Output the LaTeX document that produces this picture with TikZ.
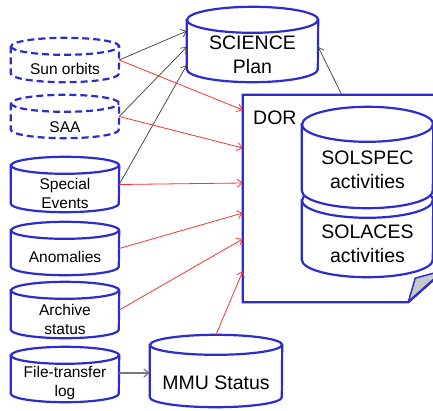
\documentclass[tikz,border=0pt]{standalone}
\usepackage{fontspec}
\setmainfont{Liberation Sans}
\usetikzlibrary{arrows.meta,calc}
\definecolor{cylblue}{RGB}{45,45,205}
\definecolor{arrred}{RGB}{255,50,50}
\definecolor{arrdark}{RGB}{60,60,60}
\definecolor{arrgray}{RGB}{120,120,120}
\definecolor{foldgray}{RGB}{200,200,200}
\newcommand\smallf{\fontsize{15.5}{19}\selectfont}
\newcommand\largef{\fontsize{19.5}{24}\selectfont}
\tikzset{
  cylline/.style={draw=cylblue, line width=2.2pt},
  cyltext/.style={inner sep=0pt, align=center, text=black},
  dashcyl/.style={dash pattern=on 7pt off 4pt},
  tipstyle/.style={-{Straight Barb[length=5pt,width=8pt]}},
  blackarr/.style={tipstyle, draw=arrdark, line width=0.7pt},
  redarr/.style={tipstyle, draw=arrred, line width=0.8pt},
  grayarr/.style={tipstyle, draw=arrgray, line width=1.2pt},
}
% name, style, center, width, height, ry, text, text dy
\newcommand\mycyl[8]{%
  \node[inner sep=0pt, minimum width=#4, minimum height=#5] (#1) at (#3) {};
  \path[cylline, fill=white, #2] ([yshift=-#6]#1.north west) -- ([yshift=#6]#1.south west)
     arc[start angle=180, end angle=360, x radius=#4/2, y radius=#6]
     -- ([yshift=-#6]#1.north east)
     arc[start angle=0, end angle=180, x radius=#4/2, y radius=#6] -- cycle;
  \path[cylline, #2] ([yshift=-#6]#1.north west)
     arc[start angle=180, end angle=360, x radius=#4/2, y radius=#6];
  \node[cyltext, #2] (#1-t) at ([yshift=-#8]#1.center) {#7};
}
\begin{document}
\begin{tikzpicture}[x=1pt, y=-1pt]
\clip (0,0) rectangle (433,410);
\fill[white] (0,0) rectangle (433,410);

% SCIENCE plan
\mycyl{sci}{font=\largef}{252.5,44.5}{131pt}{75pt}{13pt}{SCIENCE\\Plan}{10.5pt}

% DOR document
\node[inner sep=0pt, minimum width=201pt, minimum height=207pt] (dor) at (343.5,198.5) {};
\filldraw[cylline, fill=white] (dor.north west) -- (dor.north east) -- ([yshift=32pt]dor.south east)
  -- ([xshift=-36pt]dor.south east) -- (dor.south west) -- cycle;
\filldraw[fill=foldgray, draw=cylblue, line width=1.5pt, line join=round] ([xshift=-36pt]dor.south east)
  -- ([xshift=-29pt,yshift=24pt]dor.south east) -- ([yshift=32pt]dor.south east) -- cycle;
\draw[cylline] ([xshift=-36pt]dor.south east) -- ([yshift=32pt]dor.south east);
\node[cyltext, font=\largef, anchor=west] (dor-t) at (253,118) {DOR};

% SOLACES and SOLSPEC
\mycyl{solaces}{font=\largef}{367.5,230}{131pt}{94pt}{17.5pt}{SOLACES\\activities}{13.5pt}
\mycyl{solspec}{font=\largef}{367.5,157.5}{131pt}{101pt}{17.5pt}{SOLSPEC\\activities}{12.5pt}

% left column
\mycyl{sun}{dashcyl, font=\smallf}{65,60}{108pt}{44pt}{8.5pt}{Sun orbits}{9pt}
\mycyl{saa}{dashcyl, font=\smallf}{65,116.5}{108pt}{43pt}{8.5pt}{SAA}{10.5pt}
\mycyl{spec}{font=\smallf}{65,184.5}{108pt}{55pt}{8.5pt}{Special\\Events}{9pt}
\mycyl{anom}{font=\smallf}{65,248.5}{108pt}{53pt}{8.5pt}{Anomalies}{8.5pt}
\mycyl{arch}{font=\smallf}{65,310}{108pt}{56pt}{8.5pt}{Archive\\status}{9pt}
\mycyl{file}{font=\smallf}{65,374.5}{108pt}{55pt}{8.5pt}{File-transfer\\log}{8pt}

% MMU status
\mycyl{mmu}{font=\largef}{216,371}{132pt}{72pt}{10pt}{MMU Status}{12pt}

% black arrows to SCIENCE plan
\draw[blackarr] (sun.east) -- ([yshift=13.5pt]sci.west);
\draw[blackarr] (saa.east) -- ([yshift=-2.5pt]sci.west);
\draw[blackarr] (spec.east) -- ([yshift=-20.5pt]sci.west);
\draw[blackarr] ([xshift=99pt]dor.north west) -- ([yshift=-2.5pt]sci.east);

% red arrows to DOR
\draw[redarr] (sun.east) -- ([yshift=88.5pt]dor.west);
\draw[redarr] (saa.east) -- ([yshift=50.5pt]dor.west);
\draw[redarr] (spec.east) -- ([yshift=15.5pt]dor.west);
\draw[redarr] (anom.east) -- ([yshift=-14.5pt]dor.west);
\draw[redarr] (arch.east) -- ([yshift=-40.5pt]dor.west);
\draw[redarr] (mmu.north) -- ([yshift=-72.5pt]dor.west);

% file transfer to MMU
\draw[grayarr] ([yshift=1.5pt]file.east) -- ([yshift=1.5pt]file.east -| mmu.west);
\end{tikzpicture}
\end{document}
